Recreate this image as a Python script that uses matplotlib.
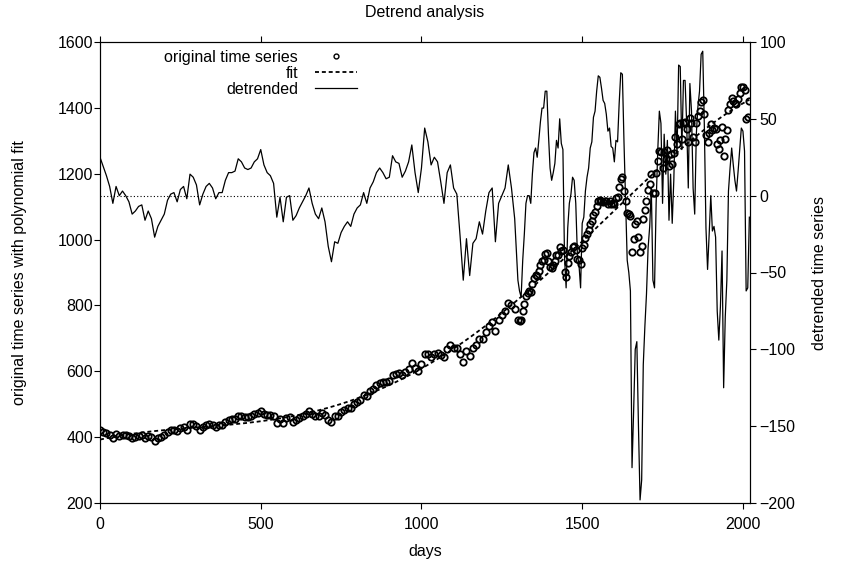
import numpy as np
import matplotlib.pyplot as plt

plt.rcParams['font.family'] = ['Liberation Sans', 'DejaVu Sans']
plt.rcParams['font.size'] = 11.5

# samples: every 10 days, every 5 days from day 1300 on
days = np.concatenate((np.arange(0, 1300, 10), np.arange(1300, 2021, 5)))

orig = [
    422, 417, 412, 406, 396, 409, 404, 408, 406, 403,
    396, 399, 403, 405, 396, 403, 399, 388, 396, 401,
    406, 416, 421, 423, 418, 427, 430, 423, 440, 439,
    435, 423, 431, 437, 440, 438, 432, 437, 438, 447,
    453, 454, 456, 465, 464, 462, 462, 464, 469, 472,
    479, 470, 467, 466, 463, 442, 456, 442, 459, 462,
    447, 452, 459, 465, 471, 478, 470, 465, 464, 473,
    466, 453, 447, 463, 465, 476, 483, 489, 489, 501,
    508, 514, 527, 524, 539, 547, 557, 565, 566, 567,
    572, 590, 591, 594, 590, 598, 608, 624, 610, 602,
    622, 654, 651, 642, 653, 657, 650, 642, 668, 679,
    670, 672, 652, 629, 662, 645, 672, 681, 698, 697,
    718, 738, 750, 723, 757, 770, 783, 807, 800, 789,
    # from day 1300, 5-day steps
    757, 754, 755, 783, 805, 829, 838, 843, 842, 866,
    884, 891, 890, 905, 922, 935, 939, 955, 959, 936,
    918, 915, 924, 935, 954, 954, 978, 966, 967, 901,
    886, 930, 950, 961, 976, 979, 969, 940, 938, 927,
    974, 983, 1004, 1018, 1029, 1047, 1055, 1076, 1085, 1102,
    1117, 1121, 1118, 1115, 1118, 1116, 1109, 1116, 1109, 1112,
    1108, 1127, 1130, 1160, 1185, 1189, 1149, 1116, 1082, 1078,
    1071, 961, 1002, 1047, 1057, 1007, 963, 981, 1061, 1090,
    1116, 1150, 1169, 1198, 1142, 1142, 1201, 1239, 1269, 1266,
    1218, 1267, 1246, 1272, 1224, 1259, 1231, 1263, 1312, 1289,
    1351, 1354, 1305, 1354, 1358, 1335, 1297, 1369, 1355, 1310,
    1297, 1353, 1376, 1390, 1418, 1425, 1380, 1318, 1295, 1323,
    1352, 1333, 1339, 1336, 1291, 1276, 1301, 1341, 1255, 1305,
    1332, 1394, 1412, 1429, 1421, 1415, 1411, 1428, 1445, 1463,
    1464, 1455, 1367, 1373, 1422,
]

detrended = [
    25, 19, 13, 6, -5, 6, 0, 3, 0, -4,
    -12, -10, -7, -6, -16, -10, -15, -27, -20, -16,
    -12, -3, 1, 2, -4, 4, 6, -2, 14, 12,
    7, -6, 1, 6, 8, 5, -2, 2, 2, 10,
    15, 15, 16, 24, 22, 18, 17, 18, 22, 24,
    30, 20, 15, 13, 8, -14, -1, -17, -1, 0,
    -16, -13, -8, -4, 0, 5, -5, -12, -15, -8,
    -17, -33, -43, -30, -31, -24, -20, -17, -20, -12,
    -8, -6, 2, -5, 5, 9, 15, 18, 15, 11,
    12, 26, 22, 21, 12, 16, 22, 33, 15, 2,
    18, 44, 35, 20, 25, 22, 9, -5, 15, 20,
    5, 1, -26, -55, -28, -52, -31, -28, -17, -25,
    -10, 2, 5, -30, -5, 0, 5, 20, 5, -15,
    # from day 1300, 5-day steps
    -55, -62, -66, -42, -25, -5, 0, 0, -5, 14,
    28, 31, 25, 36, 48, 57, 57, 68, 68, 40,
    18, 10, 15, 21, 36, 31, 50, 34, 30, -40,
    -60, -21, -5, 1, 12, 10, -5, -38, -45, -60,
    -18, -14, 3, 12, 18, 31, 35, 51, 55, 68,
    78, 77, 70, 62, 60, 53, 42, 44, 32, 31,
    22, 36, 35, 60, 80, 79, 35, -3, -42, -50,
    -62, -177, -140, -100, -95, -150, -198, -185, -110, -85,
    -64, -34, -20, 5, -55, -60, -5, 29, 55, 47,
    -5, 40, 14, 36, -16, 14, -18, 10, 55, 27,
    85, 84, 30, 75, 75, 47, 5, 73, 55, 5,
    -12, 40, 58, 68, 92, 94, 45, -21, -48, -25,
    0, -23, -20, -27, -75, -94, -72, -36, -125, -79,
    -55, 3, 18, 31, 20, 10, 3, 16, 30, 44,
    42, 29, -62, -60, -14,
]

fit = np.polyval(np.polyfit(days, orig, 5), days)

fig = plt.figure(figsize=(8.43, 5.63), dpi=100)
ax = fig.add_axes([100 / 843, 60 / 563, 650 / 843, 461 / 563])
ax2 = ax.twinx()

l1, = ax.plot(days, orig, 'o', mfc='none', mec='black', ms=4.6, mew=1.3,
              label='original time series')
l2, = ax.plot(days, fit, color='black', lw=1.3, dashes=(2.2, 1.6), label='fit')
l3, = ax2.plot(days, detrended, color='black', lw=0.9, label='detrended')
ax2.axhline(0, color='black', lw=0.8, ls=(0, (1, 2)))

ax.set_xlim(0, 2022)
ax.set_ylim(200, 1600)
ax2.set_ylim(-200, 100)
ax.set_xticks([0, 500, 1000, 1500, 2000])
ax.set_yticks(range(200, 1601, 200))
ax2.set_yticks(range(-200, 101, 50))

ax.tick_params(axis='both', direction='out', length=4, width=0.8, pad=1)
ax.tick_params(axis='x', top=True, pad=6)
ax2.tick_params(axis='y', direction='out', length=4, width=0.8, pad=3)

ax.set_xlabel('days', labelpad=9)
ax.set_ylabel('original time series with polynomial fit')
ax2.set_ylabel('detrended time series')
ax.yaxis.set_label_coords(-0.112, 0.5)
ax2.yaxis.set_label_coords(1.0954, 0.5)

fig.text(425 / 843, 1 - 12 / 563, 'Detrend analysis', ha='center', va='center')

leg = ax2.legend([l1, l2, l3], ['original time series', 'fit', 'detrended'],
                 loc='upper right', bbox_to_anchor=(357 / 843, 1 - 50 / 563),
                 bbox_transform=fig.transFigure, frameon=False, markerfirst=False,
                 handlelength=2.6, handletextpad=1.1, labelspacing=0.05,
                 borderpad=0, borderaxespad=0, numpoints=1)
# the legend sample circle is smaller than the plotted ones
leg.legend_handles[0].set_markersize(3.5)
leg.legend_handles[0].set_markeredgewidth(1.0)

fig.savefig('out.png', dpi=100)
